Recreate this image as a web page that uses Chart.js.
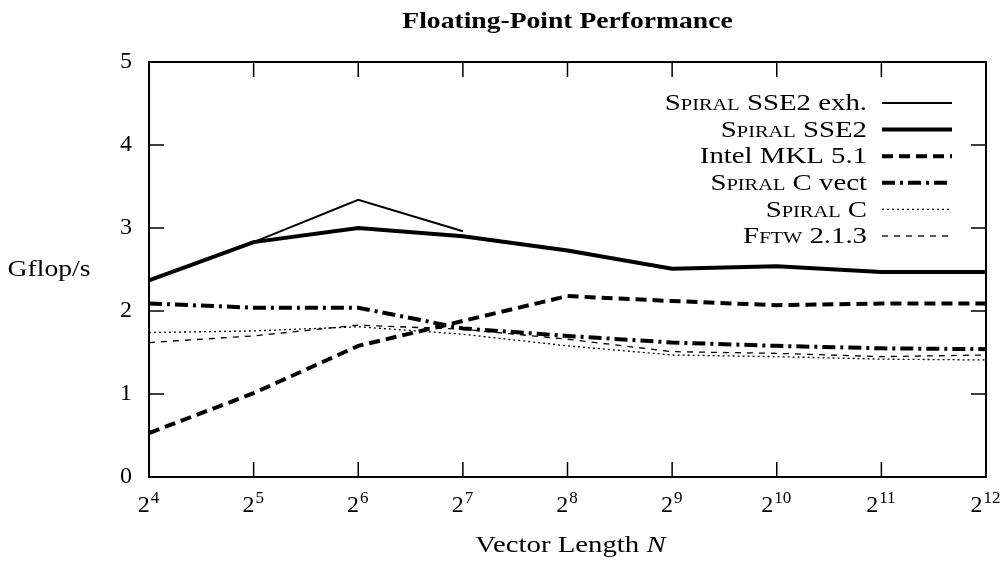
<!DOCTYPE html>
<html>
<head>
<meta charset="utf-8">
<script src="https://cdn.jsdelivr.net/npm/chart.js@4.4.1/dist/chart.umd.min.js"></script>
<style>
  html, body { margin: 0; padding: 0; background: #fff; }
  #chart { display: block; }
</style>
</head>
<body>
<canvas id="chart" width="1007" height="574"></canvas>
<script>
// Datos (Gflop/s)
const vectorLengths = ['2^4', '2^5', '2^6', '2^7', '2^8', '2^9', '2^10', '2^11', '2^12'];
const spiralSse2Exh = [2.37, 2.83, 3.34, 2.96, null, null, null, null, null];
const spiralSse2 = [2.37, 2.83, 3.00, 2.90, 2.73, 2.51, 2.54, 2.47, 2.47];
const intelMkl = [0.53, 1.01, 1.58, 1.88, 2.18, 2.12, 2.07, 2.09, 2.09];
const spiralCVect = [2.09, 2.04, 2.04, 1.79, 1.70, 1.62, 1.58, 1.55, 1.54];
const spiralC = [1.74, 1.76, 1.81, 1.72, 1.58, 1.47, 1.45, 1.42, 1.41];
const fftw = [1.62, 1.70, 1.83, 1.78, 1.66, 1.51, 1.49, 1.45, 1.47];
const yTicks = [0, 1, 2, 3, 4, 5];

const FONT = "'Liberation Serif', 'DejaVu Serif', serif";
const WIDE = 1.2; // el texto original (Computer Modern) es mas ancho
const smallCapsWords = ['Spiral', 'Fftw'];

// Texto ensanchado horizontalmente, alineado a la izquierda en (x, y)
function measureWide(ctx, str, font) {
  ctx.font = font;
  return ctx.measureText(str).width * WIDE;
}
function fillWide(ctx, str, x, y, font) {
  ctx.save();
  ctx.font = font;
  ctx.textAlign = 'left';
  ctx.translate(x, y);
  ctx.scale(WIDE, 1);
  ctx.fillText(str, 0, 0);
  ctx.restore();
}

// Dibuja una etiqueta con versalitas para "Spiral" y "Fftw", alineada a la derecha
function drawLabel(ctx, text, xRight, y, size) {
  const parts = text.split(' ');
  const pieces = parts.map((word, i) => {
    const caps = smallCapsWords.includes(word);
    const font = (caps ? 'small-caps ' : '') + size + 'px ' + FONT;
    const str = i < parts.length - 1 ? word + ' ' : word;
    return { str, font, w: measureWide(ctx, str, font) };
  });
  const total = pieces.reduce((s, p) => s + p.w, 0);
  let x = xRight - total;
  pieces.forEach(p => {
    fillWide(ctx, p.str, x, y, p.font);
    x += p.w;
  });
}

const framePlugin = {
  id: 'frame',
  afterDraw(chart) {
    const ctx = chart.ctx;
    const area = chart.chartArea;
    const xs = chart.scales.x;
    const ys = chart.scales.y;
    const tick = 15;
    ctx.save();
    ctx.strokeStyle = '#000';
    ctx.fillStyle = '#000';
    ctx.setLineDash([]);

    // Marco
    ctx.lineWidth = 2;
    ctx.strokeRect(area.left, area.top, area.right - area.left, area.bottom - area.top);

    // Marcas en los cuatro lados
    ctx.lineWidth = 1.5;
    ctx.beginPath();
    vectorLengths.forEach((_, i) => {
      const px = xs.getPixelForTick(i);
      ctx.moveTo(px, area.bottom);
      ctx.lineTo(px, area.bottom - tick);
      ctx.moveTo(px, area.top);
      ctx.lineTo(px, area.top + tick);
    });
    yTicks.forEach(v => {
      const py = ys.getPixelForValue(v);
      ctx.moveTo(area.left, py);
      ctx.lineTo(area.left + tick, py);
      ctx.moveTo(area.right, py);
      ctx.lineTo(area.right - tick, py);
    });
    ctx.stroke();

    // Etiquetas del eje x: base y exponente
    ctx.textBaseline = 'alphabetic';
    ctx.textAlign = 'left';
    vectorLengths.forEach((lab, i) => {
      const [base, exp] = lab.split('^');
      ctx.font = '24px ' + FONT;
      const wb = ctx.measureText(base).width;
      ctx.font = '17px ' + FONT;
      const we = ctx.measureText(exp).width;
      const px = xs.getPixelForTick(i);
      const x0 = px - (wb + we) / 2 - 1;
      ctx.font = '24px ' + FONT;
      ctx.fillText(base, x0, 512);
      ctx.font = '17px ' + FONT;
      ctx.fillText(exp, x0 + wb + 1, 503);
    });

    const cx = (area.left + area.right) / 2;
    ctx.textBaseline = 'middle';

    // Titulo
    const tFont = 'bold 23px ' + FONT;
    const tText = 'Floating-Point Performance';
    fillWide(ctx, tText, cx - measureWide(ctx, tText, tFont) / 2, 22, tFont);

    // Titulo eje y (horizontal)
    const gFont = '23px ' + FONT;
    fillWide(ctx, 'Gflop/s', 49 - measureWide(ctx, 'Gflop/s', gFont) / 2, (area.top + area.bottom) / 2, gFont);

    // Titulo eje x con N en cursiva
    const aFont = '24px ' + FONT;
    const nFont = 'italic 24px ' + FONT;
    const a = 'Vector Length ';
    const wa = measureWide(ctx, a, aFont);
    const wn = measureWide(ctx, 'N', nFont);
    const x0 = cx + 3 - (wa + wn) / 2;
    fillWide(ctx, a, x0, 546, aFont);
    fillWide(ctx, 'N', x0 + wa, 546, nFont);

    // Leyenda dentro del area
    const textRight = 867;
    const lineX0 = 882;
    const lineX1 = 952;
    chart.data.datasets.forEach((ds, i) => {
      const y = 103 + i * 26.6;
      ctx.fillStyle = '#000';
      drawLabel(ctx, ds.label, textRight, y + 1, 24);
      ctx.lineWidth = ds.borderWidth;
      ctx.setLineDash(ds.borderDash || []);
      ctx.beginPath();
      ctx.moveTo(lineX0, y);
      ctx.lineTo(lineX1, y);
      ctx.stroke();
    });
    ctx.restore();
  }
};

function makeSeries(label, data, width, dash) {
  return {
    label: label,
    data: data,
    borderColor: '#000',
    backgroundColor: '#000',
    borderWidth: width,
    borderDash: dash,
    pointRadius: 0,
    tension: 0,
    fill: false,
    spanGaps: false
  };
}

new Chart(document.getElementById('chart'), {
  type: 'line',
  data: {
    labels: vectorLengths,
    datasets: [
      makeSeries('Spiral SSE2 exh.', spiralSse2Exh, 2, []),
      makeSeries('Spiral SSE2', spiralSse2, 4, []),
      makeSeries('Intel MKL 5.1', intelMkl, 4, [11, 6]),
      makeSeries('Spiral C vect', spiralCVect, 4, [13, 5, 3, 5]),
      makeSeries('Spiral C', spiralC, 1.3, [2, 3]),
      makeSeries('Fftw 2.1.3', fftw, 1.3, [6, 6])
    ]
  },
  options: {
    responsive: false,
    devicePixelRatio: 1,
    animation: false,
    layout: { padding: { top: 62, right: 21, bottom: 0, left: 0 } },
    plugins: {
      legend: { display: false },
      title: { display: false },
      tooltip: { enabled: false }
    },
    scales: {
      x: {
        type: 'category',
        offset: false,
        grid: { display: false },
        border: { display: false },
        ticks: { display: false, autoSkip: false },
        afterFit: function(scale) { scale.height = 97; }
      },
      y: {
        min: 0,
        max: 5,
        grid: { display: false },
        border: { display: false },
        ticks: {
          stepSize: 1,
          color: '#000',
          font: { family: FONT, size: 24 },
          padding: 9
        },
        afterFit: function(scale) { scale.width = 149; }
      }
    }
  },
  plugins: [framePlugin]
});
</script>
</body>
</html>
